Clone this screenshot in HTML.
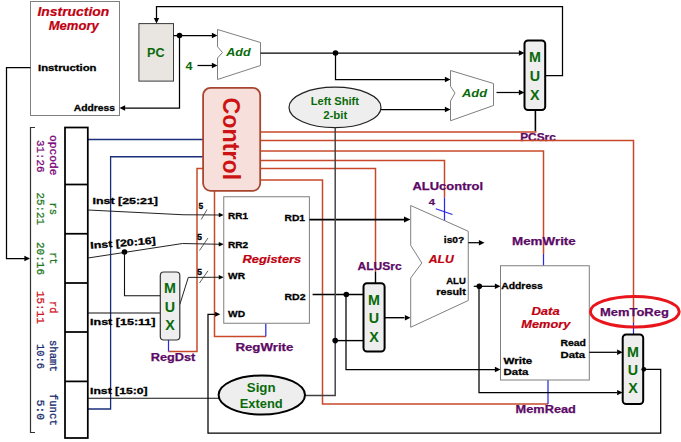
<!DOCTYPE html>
<html><head><meta charset="utf-8"><title>Single-cycle datapath</title>
<style>
html,body{margin:0;padding:0;background:#fff;}
body{width:681px;height:442px;overflow:hidden;font-family:"Liberation Sans",sans-serif;font-size:0;line-height:0;}
svg{display:block;position:absolute;left:0;top:0;}
</style></head><body>
<svg width="681" height="442" viewBox="0 0 681 442">
<rect x="0" y="0" width="681" height="442" fill="#fff"/>
<rect x="30.5" y="1.5" width="89" height="114" fill="#fff" stroke="#7f7f7f" stroke-width="1"/>
<text x="37.5" y="16.25" textLength="71.75" lengthAdjust="spacingAndGlyphs" fill="#c00010" stroke="#c00010" stroke-width="0.2" style="font-family:&quot;Liberation Sans&quot;,sans-serif;font-size:12px;font-weight:bold;font-style:italic;" >Instruction</text>
<text x="48.75" y="29.5" textLength="50" lengthAdjust="spacingAndGlyphs" fill="#c00010" stroke="#c00010" stroke-width="0.2" style="font-family:&quot;Liberation Sans&quot;,sans-serif;font-size:12px;font-weight:bold;font-style:italic;" >Memory</text>
<text x="38" y="70.75" textLength="58.5" lengthAdjust="spacingAndGlyphs" fill="#000" stroke="#000" stroke-width="0.3" style="font-family:&quot;Liberation Sans&quot;,sans-serif;font-size:9.6px;font-weight:bold;" >Instruction</text>
<text x="73.75" y="111" textLength="41.25" lengthAdjust="spacingAndGlyphs" fill="#000" stroke="#000" stroke-width="0.3" style="font-family:&quot;Liberation Sans&quot;,sans-serif;font-size:9.6px;font-weight:bold;" >Address</text>
<path d="M30.5,67.5 L6.5,67.5 L6.5,258.5 L25,258.5" fill="none" stroke="#000" stroke-width="1.25" />
<polygon points="30,258.5 24.4,255.8 24.4,261.2" fill="#000"/>
<rect x="138.9" y="23.6" width="34.6" height="57.5" fill="#e9e5e1" stroke="#3a3a3a" stroke-width="1"/>
<text x="147" y="57" textLength="17.5" lengthAdjust="spacingAndGlyphs" fill="#0a6a0a"  style="font-family:&quot;Liberation Sans&quot;,sans-serif;font-size:13.2px;font-weight:bold;" >PC</text>
<path d="M545.2,75.5 L562.5,75.5 L562.5,6.5 L156.5,6.5 L156.5,18" fill="none" stroke="#000" stroke-width="1.25" />
<polygon points="156.5,23.5 153.8,17.9 159.2,17.9" fill="#000"/>
<path d="M173.5,35.5 L212,35.5" fill="none" stroke="#000" stroke-width="1.25" />
<polygon points="217.5,35.5 211.9,32.8 211.9,38.2" fill="#000"/>
<circle cx="179.5" cy="35.5" r="2.8" fill="#000"/>
<path d="M179.5,35.5 L179.5,108 L125,108" fill="none" stroke="#000" stroke-width="1.25" />
<polygon points="119.5,108 125.1,105.3 125.1,110.7" fill="#000"/>
<text x="185.5" y="69.5" textLength="7" lengthAdjust="spacingAndGlyphs" fill="#0a6a0a"  style="font-family:&quot;Liberation Sans&quot;,sans-serif;font-size:11.5px;font-weight:bold;" >4</text>
<path d="M197.5,65.5 L212,65.5" fill="none" stroke="#000" stroke-width="1.25" />
<polygon points="217.5,65.5 211.9,62.8 211.9,68.2" fill="#000"/>
<polygon points="217.5,29.5 260.5,42.5 260.5,65.5 217.5,79.5 217.5,58 222.5,52.5 217.5,46.75" fill="#fff" stroke="#7f7f7f" stroke-width="1"/>
<text x="226.25" y="56" textLength="24.25" lengthAdjust="spacingAndGlyphs" fill="#0a6a0a"  style="font-family:&quot;Liberation Sans&quot;,sans-serif;font-size:11.5px;font-weight:bold;font-style:italic;" >Add</text>
<path d="M260.5,53 L519,53" fill="none" stroke="#000" stroke-width="1.25" />
<polygon points="524.5,53 518.9,50.3 518.9,55.7" fill="#000"/>
<circle cx="335.5" cy="53" r="2.8" fill="#000"/>
<path d="M335.5,53 L335.5,79.5 L445,79.5" fill="none" stroke="#000" stroke-width="1.25" />
<polygon points="450.5,79.5 444.9,76.8 444.9,82.2" fill="#000"/>
<polygon points="450.5,70.5 493.5,83.5 493.5,105.5 450.5,120.75 450.5,101 455,93 450.5,86.25" fill="#fff" stroke="#7f7f7f" stroke-width="1"/>
<text x="462" y="97" textLength="25" lengthAdjust="spacingAndGlyphs" fill="#0a6a0a"  style="font-family:&quot;Liberation Sans&quot;,sans-serif;font-size:11.5px;font-weight:bold;font-style:italic;" >Add</text>
<path d="M496.5,92.5 L519,92.5" fill="none" stroke="#000" stroke-width="1.25" />
<polygon points="524.5,92.5 518.9,89.8 518.9,95.2" fill="#000"/>
<ellipse cx="335" cy="107.4" rx="46" ry="20.2" fill="#eeeeee" stroke="#222" stroke-width="1.2"/>
<text x="310.7" y="105" textLength="48.3" lengthAdjust="spacingAndGlyphs" fill="#0a6a0a"  style="font-family:&quot;Liberation Sans&quot;,sans-serif;font-size:11px;font-weight:bold;" >Left Shift</text>
<text x="323.2" y="118.6" textLength="24.2" lengthAdjust="spacingAndGlyphs" fill="#0a6a0a"  style="font-family:&quot;Liberation Sans&quot;,sans-serif;font-size:11px;font-weight:bold;" >2-bit</text>
<path d="M381,109.5 L445,109.5" fill="none" stroke="#000" stroke-width="1.25" />
<polygon points="450.5,109.5 444.9,106.8 444.9,112.2" fill="#000"/>
<rect x="524.5" y="40.5" width="20.7" height="69.5" rx="3.5" ry="3.5" fill="#eeeeee" stroke="#000" stroke-width="2"/>
<text transform="translate(534.85,62) scale(0.925,1)" x="0" y="0" text-anchor="middle" fill="#0a6a0a" style="font-family:&quot;Liberation Sans&quot;,sans-serif;font-size:15.5px;font-weight:bold;">M</text>
<text transform="translate(534.85,80.7) scale(0.925,1)" x="0" y="0" text-anchor="middle" fill="#0a6a0a" style="font-family:&quot;Liberation Sans&quot;,sans-serif;font-size:15.5px;font-weight:bold;">U</text>
<text transform="translate(534.85,99.5) scale(0.925,1)" x="0" y="0" text-anchor="middle" fill="#0a6a0a" style="font-family:&quot;Liberation Sans&quot;,sans-serif;font-size:15.5px;font-weight:bold;">X</text>
<path d="M535.4,110 L535.4,131.5" fill="none" stroke="#000" stroke-width="1.6" />
<text x="520.2" y="141.3" textLength="35.6" lengthAdjust="spacingAndGlyphs" fill="#5c0a66" stroke="#5c0a66" stroke-width="0.25" style="font-family:&quot;Liberation Sans&quot;,sans-serif;font-size:11px;font-weight:bold;" >PCSrc</text>
<path d="M260,132 L536.5,132" fill="none" stroke="#c8492a" stroke-width="1.5" />
<path d="M260,140.5 L633.5,140.5 L633.5,323" fill="none" stroke="#c8492a" stroke-width="1.5" />
<path d="M260,151 L543.5,151 L543.5,254" fill="none" stroke="#c8492a" stroke-width="1.5" />
<path d="M260,160.5 L444.5,160.5 L444.5,197.5" fill="none" stroke="#c8492a" stroke-width="1.5" />
<path d="M260,168.5 L375.5,168.5 L375.5,271.5" fill="none" stroke="#c8492a" stroke-width="1.5" />
<path d="M260,180 L322.5,180 L322.5,404 L548,404" fill="none" stroke="#c8492a" stroke-width="1.5" />
<path d="M204,168.5 L197,168.5 L197,351.5 L168.5,351.5" fill="none" stroke="#c8492a" stroke-width="1.5" />
<path d="M214.5,190 L214.5,336.5 L265.8,336.5" fill="none" stroke="#c8492a" stroke-width="1.5" />
<path d="M633.5,323 L633.5,334.5" fill="none" stroke="#2a2ae6" stroke-width="1.25" />
<path d="M543.5,254 L543.5,265.75" fill="none" stroke="#2a2ae6" stroke-width="1.25" />
<path d="M444.5,197.5 L444.5,221" fill="none" stroke="#2a2ae6" stroke-width="1.25" />
<path d="M435.75,208.75 L452.5,214.5" fill="none" stroke="#2a2ae6" stroke-width="1.25" />
<path d="M548,404 L548,380" fill="none" stroke="#2a2ae6" stroke-width="1.25" />
<path d="M168.5,351.5 L168.5,340" fill="none" stroke="#2a2ae6" stroke-width="1.25" />
<path d="M265.8,336.5 L265.8,323.25" fill="none" stroke="#2a2ae6" stroke-width="1.25" />
<path d="M375.5,271.5 L375.5,283" fill="none" stroke="#000" stroke-width="1.4" />
<path d="M88,139.5 L203,139.5" fill="none" stroke="#1b2e7c" stroke-width="1.3" />
<path d="M88,409 L110.6,409 L110.6,156.75 L203,156.75" fill="none" stroke="#1b2e7c" stroke-width="1.3" />
<rect x="203.1" y="87.8" width="57.1" height="103" rx="7.5" ry="7.5" fill="#f7e0db" stroke="#a8462f" stroke-width="1.8"/>
<text transform="translate(222.6,97.6) rotate(90)" x="0" y="0" textLength="82.5" lengthAdjust="spacingAndGlyphs" fill="#cc1414" style="font-family:&quot;Liberation Sans&quot;,sans-serif;font-size:23.8px;font-weight:bold;">Control</text>
<rect x="65" y="127.5" width="22.8" height="310.5" fill="#fff" stroke="#000" stroke-width="1.75"/>
<path d="M65,184.5 L87.8,184.5" fill="none" stroke="#000" stroke-width="1.75" />
<path d="M65,233.75 L87.8,233.75" fill="none" stroke="#000" stroke-width="1.75" />
<path d="M65,283 L87.8,283" fill="none" stroke="#000" stroke-width="1.75" />
<path d="M65,332 L87.8,332" fill="none" stroke="#000" stroke-width="1.75" />
<path d="M65,381.4 L87.8,381.4" fill="none" stroke="#000" stroke-width="1.75" />
<path d="M35,127.5 L30.5,127.5 L30.5,432.5 L35,432.5" fill="none" stroke="#333" stroke-width="1.2" />
<text transform="translate(50.45,135) rotate(90)" x="0" y="0" textLength="40.5" lengthAdjust="spacingAndGlyphs" fill="#7a0a7a" stroke="#7a0a7a" stroke-width="0.3" style="font-family:&quot;Liberation Mono&quot;,monospace;font-size:11px;font-weight:normal;">opcode</text>
<text transform="translate(36.7,140) rotate(90)" x="0" y="0" textLength="32.5" lengthAdjust="spacingAndGlyphs" fill="#7a0a7a" stroke="#7a0a7a" stroke-width="0.3" style="font-family:&quot;Liberation Mono&quot;,monospace;font-size:11px;font-weight:normal;">31:26</text>
<text transform="translate(50.45,202.5) rotate(90)" x="0" y="0" textLength="12.5" lengthAdjust="spacingAndGlyphs" fill="#1f7a1f" stroke="#1f7a1f" stroke-width="0.3" style="font-family:&quot;Liberation Mono&quot;,monospace;font-size:11px;font-weight:normal;">rs</text>
<text transform="translate(36.7,192.5) rotate(90)" x="0" y="0" textLength="32.5" lengthAdjust="spacingAndGlyphs" fill="#1f7a1f" stroke="#1f7a1f" stroke-width="0.3" style="font-family:&quot;Liberation Mono&quot;,monospace;font-size:11px;font-weight:normal;">25:21</text>
<text transform="translate(50.45,252.2) rotate(90)" x="0" y="0" textLength="12.3" lengthAdjust="spacingAndGlyphs" fill="#1f7a1f" stroke="#1f7a1f" stroke-width="0.3" style="font-family:&quot;Liberation Mono&quot;,monospace;font-size:11px;font-weight:normal;">rt</text>
<text transform="translate(36.7,242) rotate(90)" x="0" y="0" textLength="33" lengthAdjust="spacingAndGlyphs" fill="#1f7a1f" stroke="#1f7a1f" stroke-width="0.3" style="font-family:&quot;Liberation Mono&quot;,monospace;font-size:11px;font-weight:normal;">20:16</text>
<text transform="translate(50.45,301) rotate(90)" x="0" y="0" textLength="12.3" lengthAdjust="spacingAndGlyphs" fill="#d01428" stroke="#d01428" stroke-width="0.3" style="font-family:&quot;Liberation Mono&quot;,monospace;font-size:11px;font-weight:normal;">rd</text>
<text transform="translate(36.7,291) rotate(90)" x="0" y="0" textLength="32.75" lengthAdjust="spacingAndGlyphs" fill="#d01428" stroke="#d01428" stroke-width="0.3" style="font-family:&quot;Liberation Mono&quot;,monospace;font-size:11px;font-weight:normal;">15:11</text>
<text transform="translate(50.45,340) rotate(90)" x="0" y="0" textLength="31.8" lengthAdjust="spacingAndGlyphs" fill="#1c2f70" stroke="#1c2f70" stroke-width="0.3" style="font-family:&quot;Liberation Mono&quot;,monospace;font-size:11px;font-weight:normal;">shamt</text>
<text transform="translate(36.7,344) rotate(90)" x="0" y="0" textLength="25" lengthAdjust="spacingAndGlyphs" fill="#1c2f70" stroke="#1c2f70" stroke-width="0.3" style="font-family:&quot;Liberation Mono&quot;,monospace;font-size:11px;font-weight:normal;">10:6</text>
<text transform="translate(50.45,393.8) rotate(90)" x="0" y="0" textLength="32" lengthAdjust="spacingAndGlyphs" fill="#1c2f70" stroke="#1c2f70" stroke-width="0.3" style="font-family:&quot;Liberation Mono&quot;,monospace;font-size:11px;font-weight:normal;">funct</text>
<text transform="translate(36.7,399.7) rotate(90)" x="0" y="0" textLength="20.3" lengthAdjust="spacingAndGlyphs" fill="#1c2f70" stroke="#1c2f70" stroke-width="0.3" style="font-family:&quot;Liberation Mono&quot;,monospace;font-size:11px;font-weight:normal;">5:0</text>
<path d="M88,210 L183,214.75 L219,215" fill="none" stroke="#222" stroke-width="1" />
<polygon points="223.75,215 218.75,212.7 218.75,217.3" fill="#000"/>
<path d="M88,258 L182.5,243.5 L219,244.25" fill="none" stroke="#222" stroke-width="1" />
<polygon points="223.75,244.25 218.75,241.95 218.75,246.55" fill="#000"/>
<circle cx="124.5" cy="252" r="2.8" fill="#000"/>
<path d="M124.5,252 L124.5,295.75 L160,295.75" fill="none" stroke="#111" stroke-width="1.1" />
<path d="M88,313 L160,313" fill="none" stroke="#111" stroke-width="1.1" />
<path d="M179.8,304.5 L188.3,277.4 L219,277.25" fill="none" stroke="#222" stroke-width="1" />
<polygon points="223.75,277.25 218.75,274.95 218.75,279.55" fill="#000"/>
<path d="M88,398.3 L219,398.3" fill="none" stroke="#111" stroke-width="1.1" />
<text x="92.5" y="203.8" textLength="65.5" lengthAdjust="spacingAndGlyphs" fill="#000" stroke="#000" stroke-width="0.3" style="font-family:&quot;Liberation Sans&quot;,sans-serif;font-size:9.6px;font-weight:bold;" >Inst [25:21]</text>
<text x="90.5" y="248.75" textLength="65.7" lengthAdjust="spacingAndGlyphs" fill="#000" stroke="#000" stroke-width="0.3" style="font-family:&quot;Liberation Sans&quot;,sans-serif;font-size:9.6px;font-weight:bold;" transform="rotate(-4.4 90.5 248.75)">Inst [20:16]</text>
<text x="90" y="325" textLength="65.5" lengthAdjust="spacingAndGlyphs" fill="#000" stroke="#000" stroke-width="0.3" style="font-family:&quot;Liberation Sans&quot;,sans-serif;font-size:9.6px;font-weight:bold;" >Inst [15:11]</text>
<text x="90" y="394" textLength="57.7" lengthAdjust="spacingAndGlyphs" fill="#000" stroke="#000" stroke-width="0.3" style="font-family:&quot;Liberation Sans&quot;,sans-serif;font-size:9.6px;font-weight:bold;" >Inst [15:0]</text>
<path d="M207,209.5 L201.25,219.5" fill="none" stroke="#333" stroke-width="0.8" />
<path d="M208,238 L199.5,250.5" fill="none" stroke="#333" stroke-width="0.8" />
<path d="M208,270.75 L199.5,283" fill="none" stroke="#333" stroke-width="0.8" />
<text x="198.5" y="208.75" textLength="4.7" lengthAdjust="spacingAndGlyphs" fill="#000" stroke="#000" stroke-width="0.3" style="font-family:&quot;Liberation Sans&quot;,sans-serif;font-size:8.5px;font-weight:bold;" >5</text>
<text x="197" y="240" textLength="5" lengthAdjust="spacingAndGlyphs" fill="#000" stroke="#000" stroke-width="0.3" style="font-family:&quot;Liberation Sans&quot;,sans-serif;font-size:8.5px;font-weight:bold;" >5</text>
<text x="197" y="274.5" textLength="5" lengthAdjust="spacingAndGlyphs" fill="#000" stroke="#000" stroke-width="0.3" style="font-family:&quot;Liberation Sans&quot;,sans-serif;font-size:8.5px;font-weight:bold;" >5</text>
<rect x="160.3" y="272" width="19.5" height="68" rx="3.5" ry="3.5" fill="#eeeeee" stroke="#333" stroke-width="1.2"/>
<text transform="translate(170.05,293.2) scale(0.925,1)" x="0" y="0" text-anchor="middle" fill="#0a6a0a" style="font-family:&quot;Liberation Sans&quot;,sans-serif;font-size:15.5px;font-weight:bold;">M</text>
<text transform="translate(170.05,311.8) scale(0.925,1)" x="0" y="0" text-anchor="middle" fill="#0a6a0a" style="font-family:&quot;Liberation Sans&quot;,sans-serif;font-size:15.5px;font-weight:bold;">U</text>
<text transform="translate(170.05,330.4) scale(0.925,1)" x="0" y="0" text-anchor="middle" fill="#0a6a0a" style="font-family:&quot;Liberation Sans&quot;,sans-serif;font-size:15.5px;font-weight:bold;">X</text>
<text x="150.7" y="360.5" textLength="44.6" lengthAdjust="spacingAndGlyphs" fill="#5c0a66" stroke="#5c0a66" stroke-width="0.25" style="font-family:&quot;Liberation Sans&quot;,sans-serif;font-size:11px;font-weight:bold;" >RegDst</text>
<rect x="223.75" y="196.75" width="85.65" height="126.5" fill="#fff" stroke="#7f7f7f" stroke-width="1"/>
<text x="228" y="219.4" textLength="20" lengthAdjust="spacingAndGlyphs" fill="#000" stroke="#000" stroke-width="0.3" style="font-family:&quot;Liberation Sans&quot;,sans-serif;font-size:9.6px;font-weight:bold;" >RR1</text>
<text x="284.5" y="220.9" textLength="20.5" lengthAdjust="spacingAndGlyphs" fill="#000" stroke="#000" stroke-width="0.3" style="font-family:&quot;Liberation Sans&quot;,sans-serif;font-size:9.6px;font-weight:bold;" >RD1</text>
<text x="228" y="248.1" textLength="20.25" lengthAdjust="spacingAndGlyphs" fill="#000" stroke="#000" stroke-width="0.3" style="font-family:&quot;Liberation Sans&quot;,sans-serif;font-size:9.6px;font-weight:bold;" >RR2</text>
<text x="242.5" y="263" textLength="58.75" lengthAdjust="spacingAndGlyphs" fill="#c00010" stroke="#c00010" stroke-width="0.2" style="font-family:&quot;Liberation Sans&quot;,sans-serif;font-size:11px;font-weight:bold;font-style:italic;" >Registers</text>
<text x="228" y="279.2" textLength="17" lengthAdjust="spacingAndGlyphs" fill="#000" stroke="#000" stroke-width="0.3" style="font-family:&quot;Liberation Sans&quot;,sans-serif;font-size:9.6px;font-weight:bold;" >WR</text>
<text x="284.5" y="300.3" textLength="21" lengthAdjust="spacingAndGlyphs" fill="#000" stroke="#000" stroke-width="0.3" style="font-family:&quot;Liberation Sans&quot;,sans-serif;font-size:9.6px;font-weight:bold;" >RD2</text>
<text x="228" y="317.4" textLength="17" lengthAdjust="spacingAndGlyphs" fill="#000" stroke="#000" stroke-width="0.3" style="font-family:&quot;Liberation Sans&quot;,sans-serif;font-size:9.6px;font-weight:bold;" >WD</text>
<text x="235.4" y="351" textLength="58" lengthAdjust="spacingAndGlyphs" fill="#5c0a66" stroke="#5c0a66" stroke-width="0.25" style="font-family:&quot;Liberation Sans&quot;,sans-serif;font-size:11px;font-weight:bold;" >RegWrite</text>
<path d="M309.4,219.5 L404,219.5" fill="none" stroke="#000" stroke-width="1.75" />
<polygon points="410.5,219.5 404,216.5 404,222.5" fill="#000"/>
<path d="M312.6,294.5 L363.5,294.5" fill="none" stroke="#000" stroke-width="1.6" />
<circle cx="346.3" cy="294.5" r="2.8" fill="#000"/>
<path d="M346,294.5 L346,369.5 L495,369.5" fill="none" stroke="#000" stroke-width="1.25" />
<polygon points="500.5,369.5 494.9,366.8 494.9,372.2" fill="#000"/>
<path d="M305,395.5 L335.2,395.5 L335.2,127.5" fill="none" stroke="#404040" stroke-width="1.45" />
<circle cx="335.2" cy="340.6" r="2.8" fill="#000"/>
<path d="M335.2,340.6 L363.5,340.6" fill="none" stroke="#000" stroke-width="1.4" />
<ellipse cx="261.8" cy="395" rx="43.2" ry="19.6" fill="#eeeeee" stroke="#000" stroke-width="2"/>
<text x="246.8" y="391.6" textLength="28.8" lengthAdjust="spacingAndGlyphs" fill="#0a6a0a"  style="font-family:&quot;Liberation Sans&quot;,sans-serif;font-size:13px;font-weight:bold;" >Sign</text>
<text x="239.7" y="407.9" textLength="43" lengthAdjust="spacingAndGlyphs" fill="#0a6a0a"  style="font-family:&quot;Liberation Sans&quot;,sans-serif;font-size:13px;font-weight:bold;" >Extend</text>
<rect x="363.5" y="283.2" width="21.1" height="68.4" rx="3.5" ry="3.5" fill="#eeeeee" stroke="#000" stroke-width="2"/>
<text transform="translate(374.05,305) scale(0.925,1)" x="0" y="0" text-anchor="middle" fill="#0a6a0a" style="font-family:&quot;Liberation Sans&quot;,sans-serif;font-size:15.5px;font-weight:bold;">M</text>
<text transform="translate(374.05,323.2) scale(0.925,1)" x="0" y="0" text-anchor="middle" fill="#0a6a0a" style="font-family:&quot;Liberation Sans&quot;,sans-serif;font-size:15.5px;font-weight:bold;">U</text>
<text transform="translate(374.05,341.8) scale(0.925,1)" x="0" y="0" text-anchor="middle" fill="#0a6a0a" style="font-family:&quot;Liberation Sans&quot;,sans-serif;font-size:15.5px;font-weight:bold;">X</text>
<text x="357.5" y="270.25" textLength="44.25" lengthAdjust="spacingAndGlyphs" fill="#5c0a66" stroke="#5c0a66" stroke-width="0.25" style="font-family:&quot;Liberation Sans&quot;,sans-serif;font-size:11px;font-weight:bold;" >ALUSrc</text>
<path d="M384.6,317.7 L404.5,317.7" fill="none" stroke="#000" stroke-width="1.4" />
<polygon points="410.5,317.7 404.9,315 404.9,320.4" fill="#000"/>
<polygon points="410.7,205.5 468.25,231.25 468.25,300.5 410.7,327.25 410.7,278 421.8,263 410.7,245.4" fill="#fff" stroke="#7f7f7f" stroke-width="1"/>
<text x="412.5" y="190.25" textLength="70.5" lengthAdjust="spacingAndGlyphs" fill="#5c0a66" stroke="#5c0a66" stroke-width="0.25" style="font-family:&quot;Liberation Sans&quot;,sans-serif;font-size:11px;font-weight:bold;" >ALUcontrol</text>
<text x="428.75" y="204.5" textLength="6.25" lengthAdjust="spacingAndGlyphs" fill="#5c0a66" stroke="#5c0a66" stroke-width="0.25" style="font-family:&quot;Liberation Sans&quot;,sans-serif;font-size:8.5px;font-weight:bold;" >4</text>
<text x="443.8" y="242.5" textLength="20.5" lengthAdjust="spacingAndGlyphs" fill="#000" stroke="#000" stroke-width="0.3" style="font-family:&quot;Liberation Sans&quot;,sans-serif;font-size:9.6px;font-weight:bold;" >is0?</text>
<path d="M468.25,242.7 L479,242.7" fill="none" stroke="#000" stroke-width="1.25" />
<polygon points="484.5,242.7 478.9,240 478.9,245.4" fill="#000"/>
<text x="428.75" y="263" textLength="25" lengthAdjust="spacingAndGlyphs" fill="#c00010" stroke="#c00010" stroke-width="0.2" style="font-family:&quot;Liberation Sans&quot;,sans-serif;font-size:11px;font-weight:bold;font-style:italic;" >ALU</text>
<text x="446.25" y="283.75" textLength="19.5" lengthAdjust="spacingAndGlyphs" fill="#000" stroke="#000" stroke-width="0.3" style="font-family:&quot;Liberation Sans&quot;,sans-serif;font-size:9.6px;font-weight:bold;" >ALU</text>
<text x="436.25" y="295" textLength="29.5" lengthAdjust="spacingAndGlyphs" fill="#000" stroke="#000" stroke-width="0.3" style="font-family:&quot;Liberation Sans&quot;,sans-serif;font-size:9.6px;font-weight:bold;" >result</text>
<path d="M473.75,286.3 L495,286.3" fill="none" stroke="#000" stroke-width="1.25" />
<polygon points="500.5,286.3 494.9,283.6 494.9,289" fill="#000"/>
<circle cx="479.3" cy="286.3" r="2.8" fill="#000"/>
<path d="M479,286.3 L479,392.6 L617,392.6" fill="none" stroke="#000" stroke-width="1.25" />
<polygon points="622.7,392.6 617.1,389.9 617.1,395.3" fill="#000"/>
<rect x="500.5" y="265.75" width="88.8" height="114.25" fill="#fff" stroke="#7f7f7f" stroke-width="1"/>
<text x="512" y="245.1" textLength="63.8" lengthAdjust="spacingAndGlyphs" fill="#5c0a66" stroke="#5c0a66" stroke-width="0.25" style="font-family:&quot;Liberation Sans&quot;,sans-serif;font-size:11px;font-weight:bold;" >MemWrite</text>
<text x="501.2" y="289" textLength="41.5" lengthAdjust="spacingAndGlyphs" fill="#000" stroke="#000" stroke-width="0.3" style="font-family:&quot;Liberation Sans&quot;,sans-serif;font-size:9.6px;font-weight:bold;" >Address</text>
<text x="531.4" y="315" textLength="28.3" lengthAdjust="spacingAndGlyphs" fill="#c00010" stroke="#c00010" stroke-width="0.2" style="font-family:&quot;Liberation Sans&quot;,sans-serif;font-size:11px;font-weight:bold;font-style:italic;" >Data</text>
<text x="521.3" y="328" textLength="49" lengthAdjust="spacingAndGlyphs" fill="#c00010" stroke="#c00010" stroke-width="0.2" style="font-family:&quot;Liberation Sans&quot;,sans-serif;font-size:11px;font-weight:bold;font-style:italic;" >Memory</text>
<text x="560.5" y="346" textLength="25.5" lengthAdjust="spacingAndGlyphs" fill="#000" stroke="#000" stroke-width="0.3" style="font-family:&quot;Liberation Sans&quot;,sans-serif;font-size:9.6px;font-weight:bold;" >Read</text>
<text x="560.5" y="357.5" textLength="24.5" lengthAdjust="spacingAndGlyphs" fill="#000" stroke="#000" stroke-width="0.3" style="font-family:&quot;Liberation Sans&quot;,sans-serif;font-size:9.6px;font-weight:bold;" >Data</text>
<text x="503.6" y="364" textLength="28.7" lengthAdjust="spacingAndGlyphs" fill="#000" stroke="#000" stroke-width="0.3" style="font-family:&quot;Liberation Sans&quot;,sans-serif;font-size:9.6px;font-weight:bold;" >Write</text>
<text x="503.6" y="375.4" textLength="24.7" lengthAdjust="spacingAndGlyphs" fill="#000" stroke="#000" stroke-width="0.3" style="font-family:&quot;Liberation Sans&quot;,sans-serif;font-size:9.6px;font-weight:bold;" >Data</text>
<text x="515.6" y="412.5" textLength="60.3" lengthAdjust="spacingAndGlyphs" fill="#5c0a66" stroke="#5c0a66" stroke-width="0.25" style="font-family:&quot;Liberation Sans&quot;,sans-serif;font-size:11px;font-weight:bold;" >MemRead</text>
<path d="M589.3,352.3 L617,352.3" fill="none" stroke="#000" stroke-width="1.25" />
<polygon points="622.7,352.3 617.1,349.6 617.1,355" fill="#000"/>
<rect x="622.7" y="334.5" width="20.5" height="69.5" rx="3.5" ry="3.5" fill="#eeeeee" stroke="#000" stroke-width="2"/>
<text transform="translate(632.95,356.6) scale(0.925,1)" x="0" y="0" text-anchor="middle" fill="#0a6a0a" style="font-family:&quot;Liberation Sans&quot;,sans-serif;font-size:15.5px;font-weight:bold;">M</text>
<text transform="translate(632.95,375) scale(0.925,1)" x="0" y="0" text-anchor="middle" fill="#0a6a0a" style="font-family:&quot;Liberation Sans&quot;,sans-serif;font-size:15.5px;font-weight:bold;">U</text>
<text transform="translate(632.95,393.4) scale(0.925,1)" x="0" y="0" text-anchor="middle" fill="#0a6a0a" style="font-family:&quot;Liberation Sans&quot;,sans-serif;font-size:15.5px;font-weight:bold;">X</text>
<text x="600" y="315.7" textLength="68.8" lengthAdjust="spacingAndGlyphs" fill="#5c0a66" stroke="#5c0a66" stroke-width="0.25" style="font-family:&quot;Liberation Sans&quot;,sans-serif;font-size:11px;font-weight:bold;" >MemToReg</text>
<ellipse cx="634.8" cy="311.7" rx="44.4" ry="15.3" fill="none" stroke="#e8161c" stroke-width="3"/>
<circle cx="643.8" cy="369.3" r="2.4" fill="#000"/>
<path d="M643,369.3 L660.7,369.3 L660.7,433 L208,433 L208,314.25 L215,314.25" fill="none" stroke="#000" stroke-width="1.25" />
<polygon points="220.3,314.25 215.1,311.75 215.1,316.75" fill="#000"/>
</svg>
</body></html>
